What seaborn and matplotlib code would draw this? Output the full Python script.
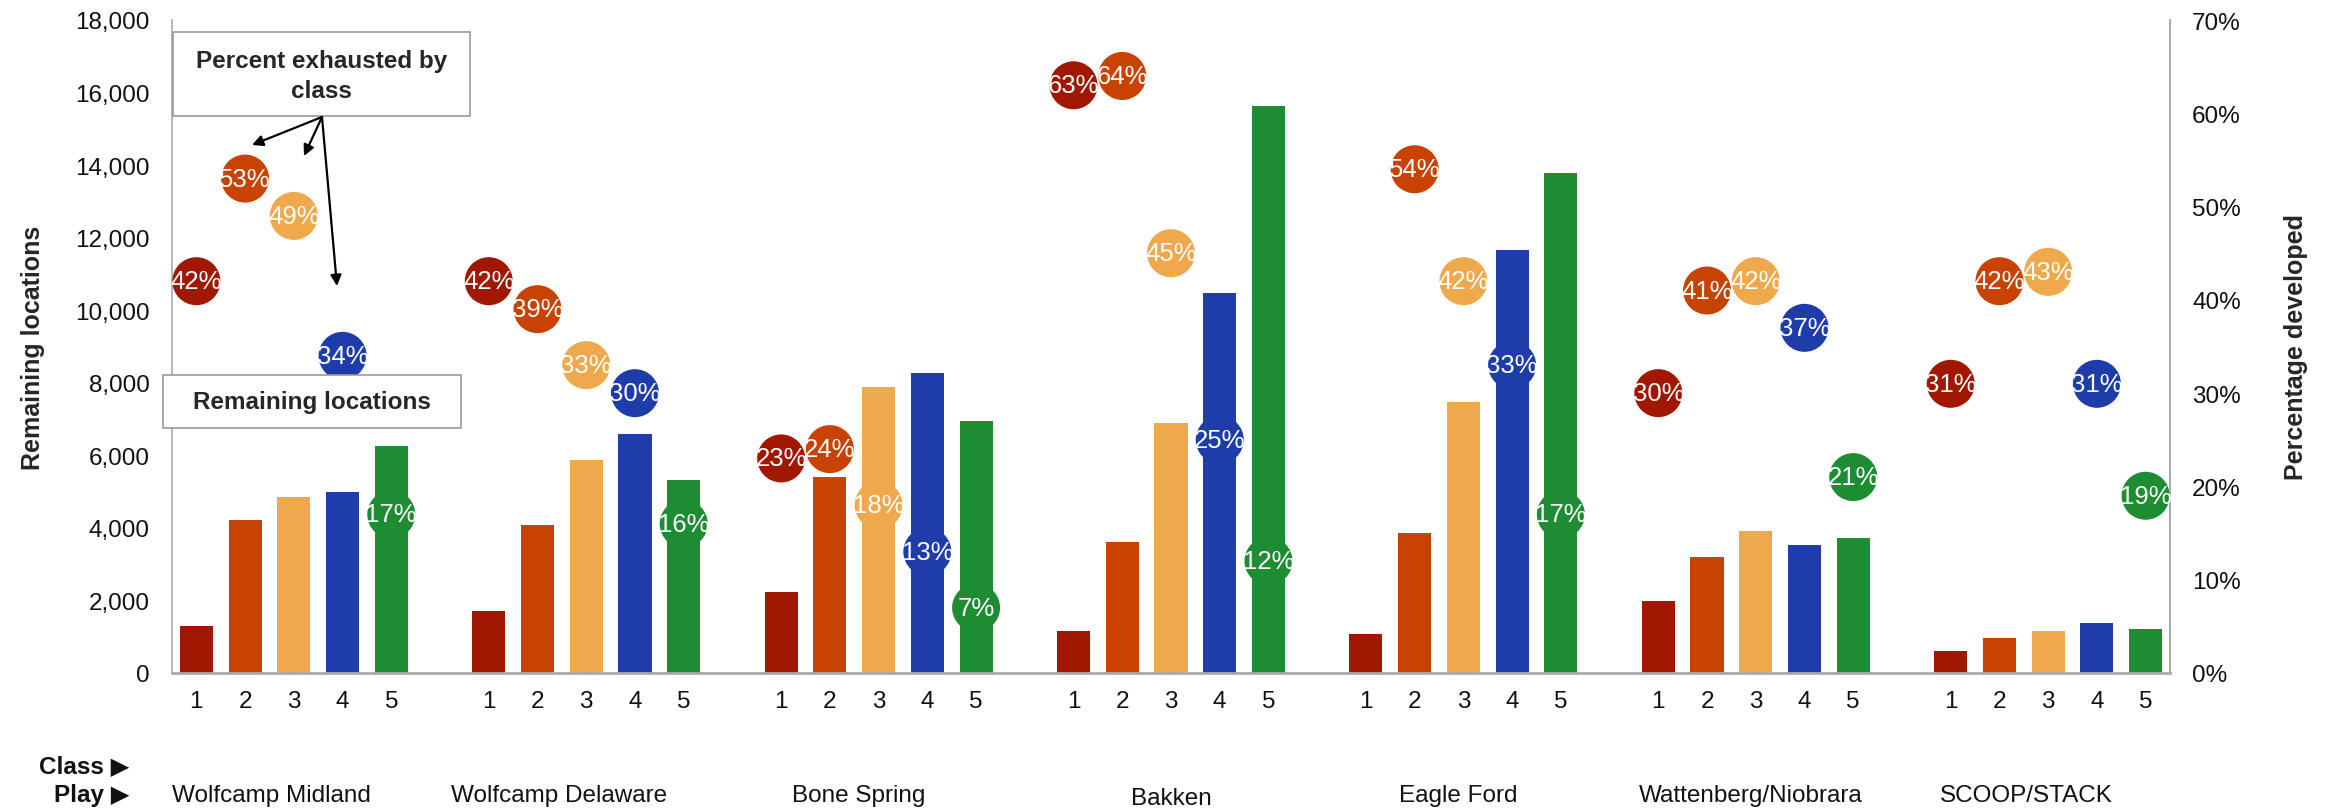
import numpy as np
import pandas as pd
import seaborn as sns
import matplotlib
matplotlib.use("Agg")
import matplotlib.pyplot as plt
from matplotlib.patches import Rectangle
from matplotlib.ticker import FuncFormatter, FixedLocator
import matplotlib.transforms as mtransforms

# ---------------- data ----------------
plays = ["Wolfcamp Midland", "Wolfcamp Delaware", "Bone Spring", "Bakken",
         "Eagle Ford", "Wattenberg/Niobrara", "SCOOP/STACK"]
classes = ["1", "2", "3", "4", "5"]

# Remaining locations by class (1..5)
rem_wolfcamp_midland = [1300, 4220, 4850, 5000, 6260]
rem_wolfcamp_delaware = [1710, 4090, 5870, 6590, 5330]
rem_bone_spring = [2240, 5400, 7890, 8270, 6950]
rem_bakken = [1160, 3620, 6890, 10470, 15630]
rem_eagle_ford = [1080, 3860, 7470, 11660, 13780]
rem_wattenberg = [1990, 3200, 3910, 3530, 3730]
rem_scoop_stack = [620, 970, 1160, 1380, 1220]

# Percent exhausted (developed) by class
pct_wolfcamp_midland = [42, 53, 49, 34, 17]
pct_wolfcamp_delaware = [42, 39, 33, 30, 16]
pct_bone_spring = [23, 24, 18, 13, 7]
pct_bakken = [63, 64, 45, 25, 12]
pct_eagle_ford = [None, 54, 42, 33, 17]
pct_wattenberg = [30, 41, 42, 37, 21]
pct_scoop_stack = [31, 42, 43, 31, 19]

remaining = [rem_wolfcamp_midland, rem_wolfcamp_delaware, rem_bone_spring, rem_bakken,
             rem_eagle_ford, rem_wattenberg, rem_scoop_stack]
percent = [pct_wolfcamp_midland, pct_wolfcamp_delaware, pct_bone_spring, pct_bakken,
           pct_eagle_ford, pct_wattenberg, pct_scoop_stack]

class_colors = ["#A01802", "#C84202", "#F0A84C", "#1E3CAA", "#1E8C32"]

y_ticks = [0, 2000, 4000, 6000, 8000, 10000, 12000, 14000, 16000, 18000]
pct_ticks = [0, 10, 20, 30, 40, 50, 60, 70]

# ---------------- table ----------------
SLOTS = 6
rows = []
for g, play in enumerate(plays):
    for c, cls in enumerate(classes):
        rows.append({"play": play, "cls": cls, "slot": g * SLOTS + c,
                     "remaining": remaining[g][c],
                     "pct": np.nan if percent[g][c] is None else percent[g][c]})
df = pd.DataFrame(rows)
palette = dict(zip(classes, class_colors))

# ---------------- figure ----------------
sns.set_theme(style="white")
plt.rcParams["font.family"] = ["Liberation Sans", "DejaVu Sans"]

W, H = 2331, 812
fig = plt.figure(figsize=(W / 100, H / 100), dpi=100)
ax_l, ax_r, ax_t, ax_b = 172, 2170, 21, 674
ax = fig.add_axes([ax_l / W, 1 - ax_b / H, (ax_r - ax_l) / W, (ax_b - ax_t) / H])

sns.barplot(data=df, x="slot", y="remaining", hue="cls", palette=palette,
            native_scale=True, dodge=False, width=0.68, legend=False, ax=ax,
            saturation=1, errorbar=None, linewidth=0)

n_slots = len(plays) * SLOTS - 1
ax.set_xlim(-0.5, n_slots - 0.5)
ax.set_ylim(0, 18000)
ax.yaxis.set_major_locator(FixedLocator(y_ticks))
ax.yaxis.set_major_formatter(FuncFormatter(lambda v, p: f"{v:,.0f}"))
ax.set_xticks(df["slot"].tolist())
ax.set_xticklabels(df["cls"].tolist())
ax.tick_params(axis="x", length=0, pad=12, labelsize=17.5, labelcolor="#111111")
ax.tick_params(axis="y", length=0, pad=16, labelsize=17.5, labelcolor="#111111")
ax.set_xlabel("")
ax.set_ylabel("Remaining locations", fontsize=18, fontweight="bold", labelpad=22)

ax.spines["top"].set_visible(False)
for s in ["left", "right", "bottom"]:
    ax.spines[s].set_color("#AAAAAA")
ax.spines["left"].set_linewidth(1.2)
ax.spines["right"].set_linewidth(1.2)
ax.spines["bottom"].set_linewidth(2.0)

# secondary axis
ax2 = ax.twinx()
sns.scatterplot(data=df.dropna(subset=["pct"]), x="slot", y="pct", hue="cls",
                palette=palette, s=1195, linewidth=0, legend=False, ax=ax2, zorder=3)
ax2.set_ylim(0, 70)
ax2.yaxis.set_major_locator(FixedLocator(pct_ticks))
ax2.yaxis.set_major_formatter(FuncFormatter(lambda v, p: f"{v:.0f}%"))
ax2.tick_params(axis="y", length=0, pad=16, labelsize=17.5, labelcolor="#111111")
ax2.set_ylabel("Percentage developed", fontsize=18, fontweight="bold", labelpad=31)
ax2.set_xlim(-0.5, n_slots - 0.5)
for s in ["top", "left", "bottom"]:
    ax2.spines[s].set_visible(False)
ax2.spines["right"].set_color("#AAAAAA")
ax2.spines["right"].set_linewidth(1.2)

for _, r in df.dropna(subset=["pct"]).iterrows():
    ax2.text(r["slot"], r["pct"], f"{r['pct']:.0f}%", color="white", fontsize=18.5,
             ha="center", va="center", zorder=4)

# play labels
trans = mtransforms.blended_transform_factory(ax.transData, fig.transFigure)
label_dx = [-0.45, -0.55, -0.4, 0.0, -0.1, -0.1, -0.45]
label_y = [796, 796, 796, 799, 796, 796, 796]
for g, play in enumerate(plays):
    ax.text(g * SLOTS + 2 + label_dx[g], 1 - label_y[g] / H, play, transform=trans,
            ha="center", va="center", fontsize=17.5, color="#111111")

fig.text(129 / W, 1 - 767 / H, "Class \u25B6", ha="right", va="center",
         fontsize=17.5, fontweight="bold", color="#111111")
fig.text(129 / W, 1 - 796 / H, "Play \u25B6", ha="right", va="center",
         fontsize=17.5, fontweight="bold", color="#111111")

# annotation boxes (pixel -> axes fraction)
def fx(px):
    return (px - ax_l) / (ax_r - ax_l)

def fy(py):
    return (ax_b - py) / (ax_b - ax_t)

box1 = Rectangle((fx(173), fy(117)), fx(470) - fx(173), fy(33) - fy(117),
                 transform=ax2.transAxes, facecolor="white", edgecolor="#999999",
                 linewidth=1.2, zorder=5, clip_on=False)
ax2.add_patch(box1)
ax2.text(fx(321.5), fy(62), "Percent exhausted by", transform=ax2.transAxes,
         ha="center", va="center", fontsize=17.5, fontweight="bold", zorder=6)
ax2.text(fx(321.5), fy(92), "class", transform=ax2.transAxes,
         ha="center", va="center", fontsize=17.5, fontweight="bold", zorder=6)

box2 = Rectangle((fx(163), fy(429)), fx(461) - fx(163), fy(376) - fy(429),
                 transform=ax2.transAxes, facecolor="white", edgecolor="#999999",
                 linewidth=1.2, zorder=5, clip_on=False)
ax2.add_patch(box2)
ax2.text(fx(312), fy(403), "Remaining locations", transform=ax2.transAxes,
         ha="center", va="center", fontsize=17.5, fontweight="bold", zorder=6)

start = (fx(322), fy(118))
for end in [(fx(252), fy(146)), (fx(304), fy(157)), (fx(337), fy(287))]:
    ax2.annotate("", xy=end, xytext=start, xycoords="axes fraction",
                 textcoords="axes fraction",
                 arrowprops=dict(arrowstyle="-|>", color="black", lw=1.6,
                                 mutation_scale=16, shrinkA=0, shrinkB=0),
                 zorder=6)

fig.savefig("out.png", dpi=100)
